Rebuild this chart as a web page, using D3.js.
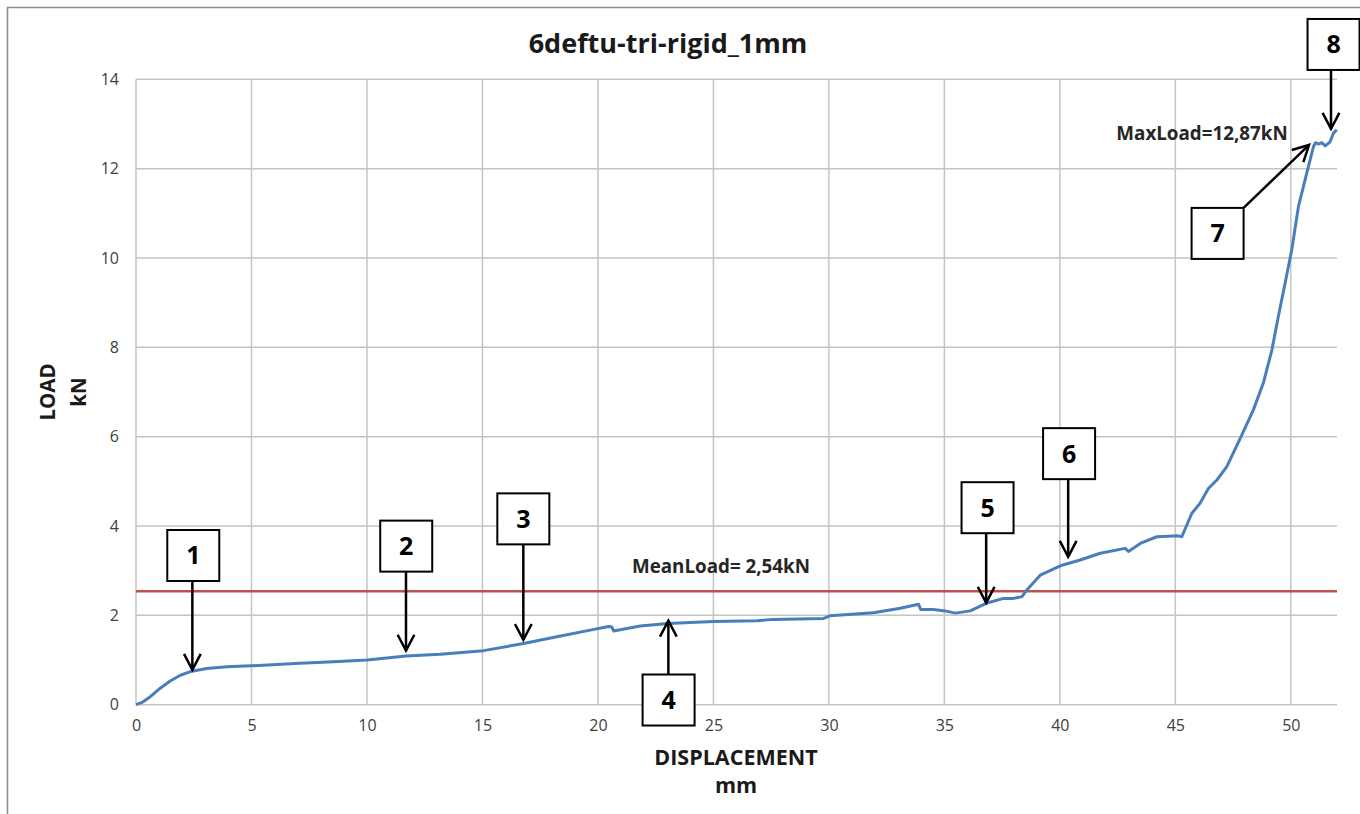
<!DOCTYPE html>
<html>
<head>
<meta charset="utf-8">
<script src="https://cdn.jsdelivr.net/npm/d3@7"></script>
<style>
  html, body { margin: 0; padding: 0; background: #ffffff; }
  svg { display: block; font-family: "Open Sans", Lato, "Liberation Sans", sans-serif; }
</style>
</head>
<body>
<svg id="chart" width="1360" height="814"></svg>
<script>
// Load–displacement record, 6deftu-tri-rigid, 1 mm
const dispMm = [0, 0.26, 0.62, 1.05, 1.48, 1.92, 2.42, 3.07, 3.94, 5.0, 7.1, 8.55, 10.0, 11.7,
  13.17, 15.05, 16.78, 18.22, 19.67, 20.46, 20.6, 20.68, 21.83, 23.03, 25.0, 26.88, 27.6, 29.77,
  30.05, 31.93, 33.09, 33.88, 33.98, 34.53, 35.03, 35.47, 36.12, 36.81, 37.56, 37.99, 38.36,
  38.57, 39.15, 40.02, 40.88, 41.75, 42.83, 42.97, 43.48, 44.2, 45.13, 45.28, 45.71, 46.07,
  46.43, 46.8, 47.23, 47.81, 48.38, 48.81, 49.18, 49.46, 49.75, 50.04, 50.33, 50.69, 50.98,
  51.07, 51.2, 51.34, 51.49, 51.7, 51.84, 51.99];
const loadKn = [0, 0.05, 0.18, 0.37, 0.53, 0.66, 0.75, 0.81, 0.85, 0.87, 0.93, 0.96, 1.0, 1.09,
  1.13, 1.21, 1.37, 1.52, 1.67, 1.75, 1.74, 1.65, 1.76, 1.82, 1.86, 1.88, 1.91, 1.93,
  1.99, 2.06, 2.16, 2.25, 2.13, 2.13, 2.10, 2.05, 2.10, 2.27, 2.38, 2.38, 2.42,
  2.57, 2.90, 3.11, 3.24, 3.39, 3.50, 3.43, 3.61, 3.76, 3.78, 3.76, 4.28, 4.51,
  4.84, 5.03, 5.33, 5.96, 6.60, 7.20, 7.94, 8.69, 9.43, 10.18, 11.15, 11.9, 12.49,
  12.58, 12.55, 12.58, 12.51, 12.60, 12.79, 12.87];

const meanLoad = 2.54;
const maxLoad = 12.87;

const xTicks = [0, 5, 10, 15, 20, 25, 30, 35, 40, 45, 50];
const yTicks = [0, 2, 4, 6, 8, 10, 12, 14];

// Numbered callouts: arrow tip and box centre, both in data units
const calloutIds = ["1", "2", "3", "4", "5", "6", "7", "8"];
const calloutTipX = [2.44, 11.69, 16.77, 23.05, 36.81, 40.36, 50.79, 51.74];
const calloutTipY = [0.78, 1.21, 1.45, 1.88, 2.28, 3.31, 12.53, 12.89];
const calloutBoxX = [2.48, 11.70, 16.77, 23.06, 36.87, 40.40, 46.83, 51.85];
const calloutBoxY = [3.34, 3.55, 4.16, 0.105, 4.41, 5.62, 10.55, 14.78];

const svg = d3.select("#chart");
const W = 1360, H = 814;
const plot = { left: 136, right: 1337, top: 79.3, bottom: 704.7 };

const x = d3.scaleLinear().domain([0, 52]).range([plot.left, plot.right]);
const y = d3.scaleLinear().domain([0, 14]).range([plot.bottom, plot.top]);

// Chart-area frame
svg.append("rect")
  .attr("x", 7.5).attr("y", 7.5).attr("width", W + 40).attr("height", H + 40)
  .attr("fill", "#ffffff").attr("stroke", "#8c8c8c").attr("stroke-width", 1.5);

// Gridlines
const grid = svg.append("g").attr("stroke", "#c4c4c4").attr("stroke-width", 1.5);
grid.selectAll("line.h").data(yTicks).join("line")
  .attr("x1", plot.left).attr("x2", plot.right)
  .attr("y1", d => y(d)).attr("y2", d => y(d));
grid.selectAll("line.v").data(xTicks).join("line")
  .attr("x1", d => x(d)).attr("x2", d => x(d))
  .attr("y1", plot.top).attr("y2", plot.bottom);

// Axes (labels only; lines are drawn by the grid)
const xAxis = d3.axisBottom(x).tickValues(xTicks).tickSize(0).tickPadding(15).tickFormat(d3.format("d"));
const yAxis = d3.axisLeft(y).tickValues(yTicks).tickSize(0).tickPadding(17).tickFormat(d3.format("d"));
const gx = svg.append("g").attr("transform", `translate(0,${plot.bottom})`).call(xAxis);
const gy = svg.append("g").attr("transform", `translate(${plot.left},0)`).call(yAxis);
[gx, gy].forEach(g => {
  g.select(".domain").remove();
  g.selectAll("text").attr("font-family", "'Open Sans', sans-serif").attr("font-size", 16).attr("fill", "#404040");
});

// Mean load line
svg.append("line")
  .attr("x1", plot.left).attr("x2", plot.right)
  .attr("y1", y(meanLoad)).attr("y2", y(meanLoad))
  .attr("stroke", "#c0504d").attr("stroke-width", 2.5);

// Load curve
const pts = dispMm.map((d, i) => [d, loadKn[i]]);
svg.append("path")
  .datum(pts)
  .attr("fill", "none")
  .attr("stroke", "#4a7ebb")
  .attr("stroke-width", 3)
  .attr("stroke-linejoin", "round")
  .attr("d", d3.line().x(d => x(d[0])).y(d => y(d[1])));

// Title and axis titles
svg.append("text").attr("x", 668).attr("y", 53).attr("text-anchor", "middle")
  .attr("font-size", 27).attr("font-weight", "bold").attr("fill", "#1a1a1a")
  .text("6deftu-tri-rigid_1mm");

svg.append("text").attr("x", 736).attr("y", 765).attr("text-anchor", "middle")
  .attr("font-size", 21.5).attr("font-weight", "bold").attr("fill", "#1a1a1a")
  .text("DISPLACEMENT");
svg.append("text").attr("x", 736).attr("y", 793).attr("text-anchor", "middle")
  .attr("font-size", 21.5).attr("font-weight", "bold").attr("fill", "#1a1a1a")
  .text("mm");

svg.append("text").attr("transform", "translate(55,392) rotate(-90)").attr("text-anchor", "middle")
  .attr("font-size", 20.5).attr("font-weight", "bold").attr("fill", "#1a1a1a")
  .text("LOAD");
svg.append("text").attr("transform", "translate(86,392) rotate(-90)").attr("text-anchor", "middle")
  .attr("font-size", 20.5).attr("font-weight", "bold").attr("fill", "#1a1a1a")
  .text("kN");

// Value labels
svg.append("text").attr("x", 721).attr("y", 573).attr("text-anchor", "middle")
  .attr("font-size", 18.8).attr("font-weight", "bold").attr("fill", "#262626")
  .text("MeanLoad= " + meanLoad.toFixed(2).replace(".", ",") + "kN");
svg.append("text").attr("x", 1202).attr("y", 140).attr("text-anchor", "middle")
  .attr("font-size", 18.8).attr("font-weight", "bold").attr("fill", "#262626")
  .text("MaxLoad=" + maxLoad.toFixed(2).replace(".", ",") + "kN");

// Callouts
const boxW = 52, boxH = 51;
const co = svg.append("g");
function arrowHead(g, tx, ty, ang) {
  // open V-head pointing along ang (radians) ending at (tx,ty)
  const L = 18, spread = Math.PI / 6.5;
  const a1 = ang + Math.PI - spread, a2 = ang + Math.PI + spread;
  g.append("path")
    .attr("d", `M${tx + L * Math.cos(a1)},${ty + L * Math.sin(a1)} L${tx},${ty} L${tx + L * Math.cos(a2)},${ty + L * Math.sin(a2)}`)
    .attr("fill", "none").attr("stroke", "#000").attr("stroke-width", 2.5);
}
calloutIds.forEach((id, i) => {
  const tx = x(calloutTipX[i]), ty = y(calloutTipY[i]);
  const bx = x(calloutBoxX[i]), by = y(calloutBoxY[i]);
  let sx, sy;
  if (id === "7") { sx = bx + boxW / 2; sy = by - boxH / 2; }
  else if (ty > by) { sx = tx; sy = by + boxH / 2; }
  else { sx = tx; sy = by - boxH / 2; }
  co.append("line").attr("x1", sx).attr("y1", sy).attr("x2", tx).attr("y2", ty)
    .attr("stroke", "#000").attr("stroke-width", 2.5);
  arrowHead(co, tx, ty, Math.atan2(ty - sy, tx - sx));
  co.append("rect").attr("x", bx - boxW / 2).attr("y", by - boxH / 2)
    .attr("width", boxW).attr("height", boxH)
    .attr("fill", "#ffffff").attr("stroke", "#000").attr("stroke-width", 2);
  co.append("text").attr("x", bx).attr("y", by + 9).attr("text-anchor", "middle")
    .attr("font-size", 25).attr("font-weight", "bold").attr("fill", "#000")
    .text(id);
});
</script>
</body>
</html>
